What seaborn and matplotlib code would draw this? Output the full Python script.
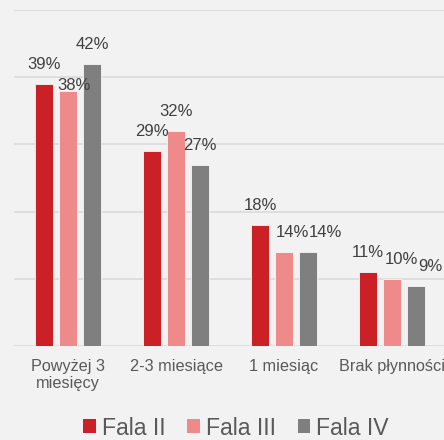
import matplotlib
matplotlib.use("Agg")
import matplotlib.pyplot as plt
import seaborn as sns
import pandas as pd
from matplotlib.patches import Patch

categories = ["Powyżej 3\nmiesięcy", "2-3 miesiące", "1 miesiąc", "Brak płynności"]
series = ["Fala II", "Fala III", "Fala IV"]
fala_2 = [39, 29, 18, 11]
fala_3 = [38, 32, 14, 10]
fala_4 = [42, 27, 14, 9]
colors = ["#cc2027", "#ee8a8a", "#7f7f7f"]

rows = []
for name, vals in zip(series, [fala_2, fala_3, fala_4]):
    for c, v in zip(categories, vals):
        rows.append({"cat": c, "series": name, "value": v})
df = pd.DataFrame(rows)

sns.set_theme(style="white")
plt.rcParams["font.family"] = ["Liberation Sans", "DejaVu Sans"]

fig = plt.figure(figsize=(4.44, 4.40), dpi=100, facecolor="#f2f2f2")
ax = fig.add_axes([14 / 444, 94 / 440, 432 / 444, 336 / 440])
ax.set_facecolor("#f2f2f2")

sns.barplot(data=df, x="cat", y="value", hue="series", order=categories,
            hue_order=series, palette=colors, width=0.667, gap=0.25,
            saturation=1, edgecolor="#f7f7f7", linewidth=0.6, ax=ax, legend=False)

ax.set_ylim(0, 50)
ax.set_xlim(-0.5, 3.5)
ax.set_yticks(range(0, 51, 10))
ax.set_yticklabels([])
ax.tick_params(axis="y", length=0)
ax.grid(axis="y", color="#d9d9d9", linewidth=1.1)
ax.set_axisbelow(True)
for s in ax.spines.values():
    s.set_visible(False)
ax.set_xlabel("")
ax.set_ylabel("")
ax.tick_params(axis="x", length=0, pad=9, labelsize=11.7, labelcolor="#595959")

# per-label nudges (points) to mimic manual label placement
nudges = {
    (1, 0): (4, -10.5),
    (1, 2): (6, 0),
    (2, 2): (12.5, 0),
    (1, 3): (7, 0),
    (2, 3): (10, 0),
}
for si, cont in enumerate(ax.containers):
    for ci, bar in enumerate(cont):
        h = bar.get_height()
        dx, dy = nudges.get((si, ci), (0, 0))
        ax.annotate(f"{h:.0f}%", (bar.get_x() + bar.get_width() / 2, h),
                    xytext=(dx, 8.5 + dy), textcoords="offset points",
                    ha="center", va="bottom", fontsize=12, color="#404040",
                    annotation_clip=False)

handles = [Patch(facecolor=c, edgecolor="none") for c in colors]
fig.legend(handles, series, loc="center", bbox_to_anchor=(236 / 444, 1 - 428 / 440),
           ncol=3, frameon=False, fontsize=16.6, labelcolor="#595959",
           handlelength=0.55, handleheight=0.55, handletextpad=0.25,
           columnspacing=0.95, borderaxespad=0)

fig.savefig("out.png", dpi=100, facecolor="#f2f2f2")
